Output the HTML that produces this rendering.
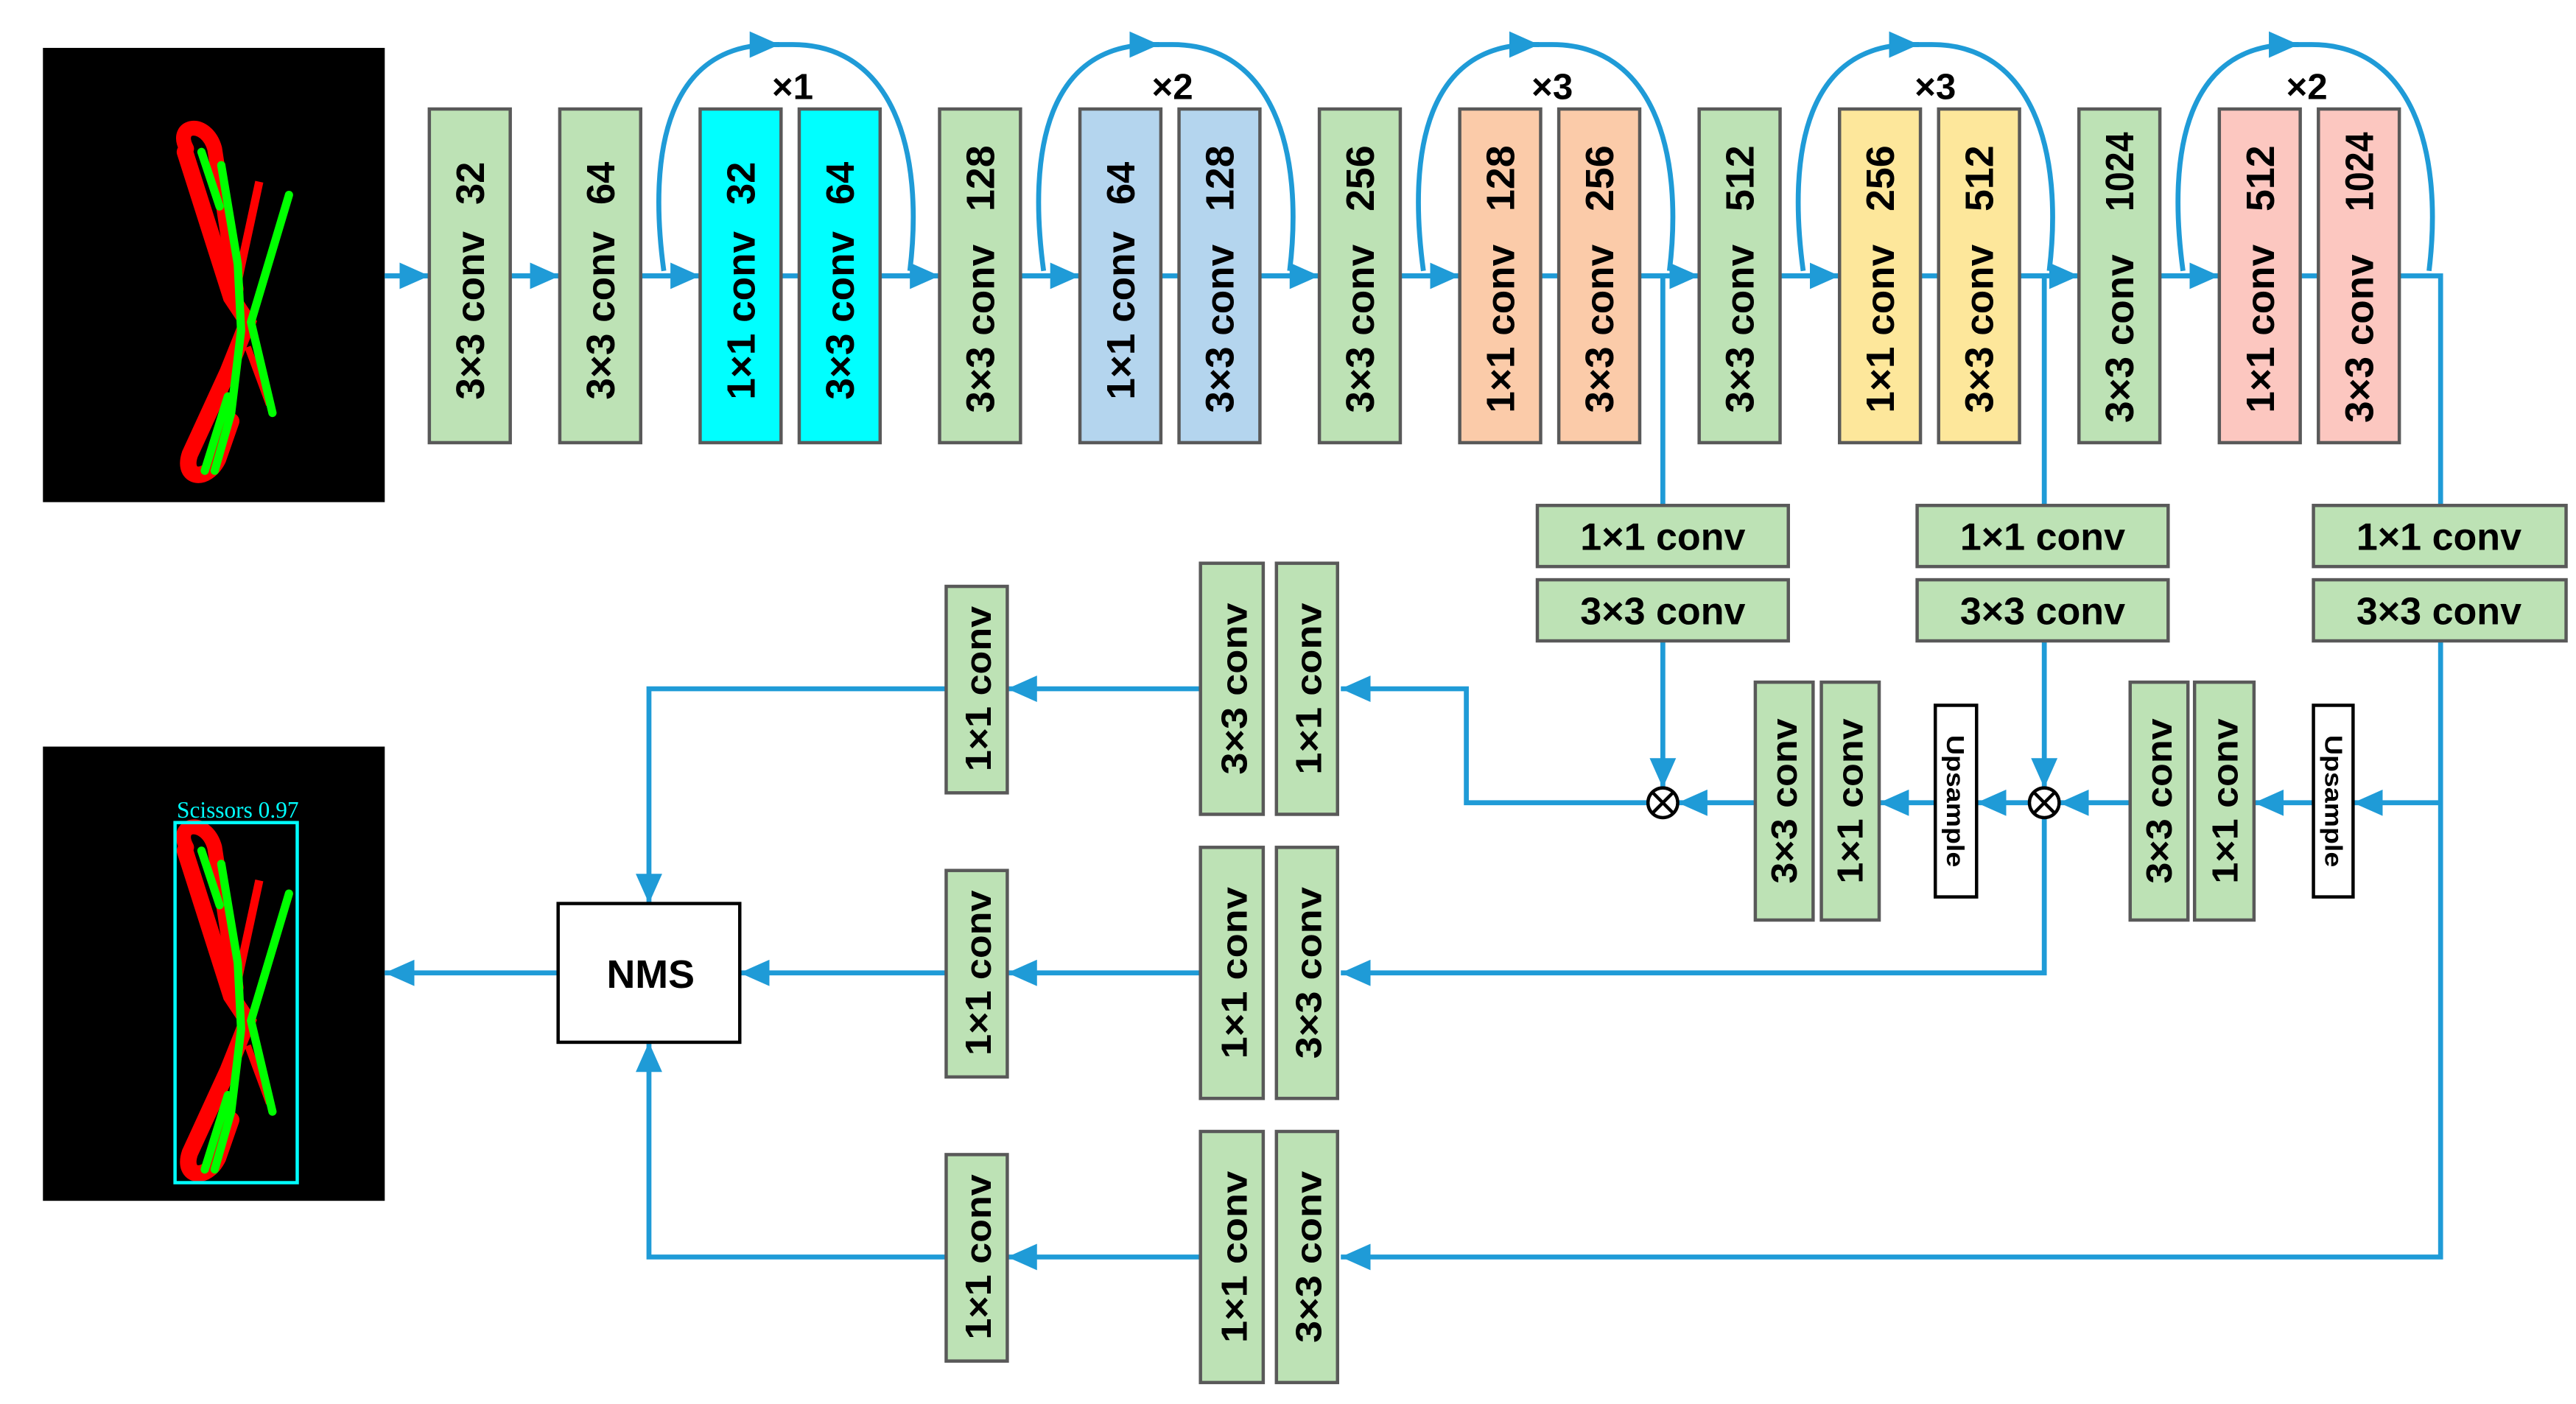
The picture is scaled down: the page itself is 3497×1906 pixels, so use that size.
<!DOCTYPE html>
<html><head><meta charset="utf-8"><style>
html,body{margin:0;padding:0;background:#fff}
svg{display:block}
text{font-family:"Liberation Sans",sans-serif;font-weight:bold;fill:#000}
</style></head><body>
<svg width="3497" height="1906" viewBox="0 0 1560 850" preserveAspectRatio="none" xmlns="http://www.w3.org/2000/svg">
<defs>
<marker id="a" viewBox="0 0 18 16" refX="18" refY="8" markerWidth="18" markerHeight="16" markerUnits="userSpaceOnUse" orient="auto"><path d="M0,0L18,8L0,16z" fill="#1f9bd7"/></marker>
<g id="sc">
<path d="M113,90 C105,75 125,72 130,90 L143,175" stroke="#f00" stroke-width="9" fill="none" stroke-linecap="round"/>
<path d="M112,92 L140,180 L150,195 L138,225 L115,275 C110,290 125,292 132,278 L140,255" stroke="#f00" stroke-width="10" fill="none" stroke-linecap="round"/>
<path d="M157,110 L143,175" stroke="#f00" stroke-width="5" fill="none"/>
<path d="M150,210 L163,245" stroke="#f00" stroke-width="4" fill="none"/>
<path d="M122,92 L133,125 M134,100 L144,160 L146,200 L140,250 L130,285 M175,118 L152,195 L165,250 M124,285 L138,240" stroke="#0f0" stroke-width="5" fill="none" stroke-linecap="round"/>
</g>
</defs>

<!-- images -->
<rect x="26" y="29" width="207" height="275" fill="#000"/>
<use href="#sc"/>
<rect x="26" y="452" width="207" height="275" fill="#000"/>
<use href="#sc" transform="translate(0,423)"/>
<rect x="106" y="498" width="74" height="218" fill="none" stroke="#0ff" stroke-width="2"/>
<text x="144" y="495" text-anchor="middle" style="font-family:'Liberation Serif',serif;font-weight:normal;fill:#0ff;font-size:14px">Scissors 0.97</text>

<g stroke="#1f9bd7" stroke-width="3" fill="none">
<!-- main line -->
<path d="M233,167 L1478,167 L1478,306"/>
<path d="M1478,388 L1478,761 L812,761" marker-end="url(#a)"/>
<path d="M233,167 L260,167" marker-end="url(#a)"/>
<path d="M309,167 L339,167" marker-end="url(#a)"/>
<path d="M388,167 L424,167" marker-end="url(#a)"/>
<path d="M533,167 L569,167" marker-end="url(#a)"/>
<path d="M618,167 L654,167" marker-end="url(#a)"/>
<path d="M763,167 L799,167" marker-end="url(#a)"/>
<path d="M848,167 L884,167" marker-end="url(#a)"/>
<path d="M993,167 L1029,167" marker-end="url(#a)"/>
<path d="M1078,167 L1114,167" marker-end="url(#a)"/>
<path d="M1223,167 L1259,167" marker-end="url(#a)"/>
<path d="M1308,167 L1344,167" marker-end="url(#a)"/>
<!-- loops -->
<path d="M402,164 C392,90 405,27 468,27 L480,27 C540,27 560,90 551,164"/>
<path d="M632,164 C622,90 635,27 698,27 L710,27 C770,27 790,90 781,164"/>
<path d="M862,164 C852,90 865,27 928,27 L940,27 C1000,27 1020,90 1011,164"/>
<path d="M1092,164 C1082,90 1095,27 1158,27 L1170,27 C1230,27 1250,90 1241,164"/>
<path d="M1322,164 C1312,90 1325,27 1388,27 L1400,27 C1460,27 1480,90 1471,164"/>
<path d="M455,27 L472,27" marker-end="url(#a)"/>
<path d="M685,27 L702,27" marker-end="url(#a)"/>
<path d="M915,27 L932,27" marker-end="url(#a)"/>
<path d="M1145,27 L1162,27" marker-end="url(#a)"/>
<path d="M1375,27 L1392,27" marker-end="url(#a)"/>
<!-- branches -->
<path d="M1007,167 L1007,306"/>
<path d="M1238,167 L1238,306"/>
<path d="M1007,388 L1007,477" marker-end="url(#a)"/>
<path d="M1238,388 L1238,477" marker-end="url(#a)"/>
<path d="M1478,486 L1425,486" marker-end="url(#a)"/>
<path d="M1401,486 L1365,486" marker-end="url(#a)"/>
<path d="M1290,486 L1247,486" marker-end="url(#a)"/>
<path d="M1229,486 L1197,486" marker-end="url(#a)"/>
<path d="M1172,486 L1138,486" marker-end="url(#a)"/>
<path d="M1063,486 L1016,486" marker-end="url(#a)"/>
<path d="M998,486 L888,486 L888,417 L812,417" marker-end="url(#a)"/>
<path d="M1238,495 L1238,589 L812,589" marker-end="url(#a)"/>
<path d="M727,417 L610,417" marker-end="url(#a)"/>
<path d="M727,589 L610,589" marker-end="url(#a)"/>
<path d="M727,761 L610,761" marker-end="url(#a)"/>
<path d="M573,417 L393,417 L393,547" marker-end="url(#a)"/>
<path d="M573,589 L448,589" marker-end="url(#a)"/>
<path d="M573,761 L393,761 L393,631" marker-end="url(#a)"/>
<path d="M338,589 L233,589" marker-end="url(#a)"/>
</g>

<!-- loop labels -->
<g style="font-size:22px" text-anchor="middle">
<text x="480" y="60">×1</text><text x="710" y="60">×2</text><text x="940" y="60">×3</text><text x="1172" y="60">×3</text><text x="1397" y="60">×2</text>
</g>

<!-- top boxes -->
<g stroke="#595959" stroke-width="2">
<rect x="260" y="66" width="49" height="202" fill="#bde2b5"/>
<rect x="339" y="66" width="49" height="202" fill="#bde2b5"/>
<rect x="424" y="66" width="49" height="202" fill="#00ffff"/>
<rect x="484" y="66" width="49" height="202" fill="#00ffff"/>
<rect x="569" y="66" width="49" height="202" fill="#bde2b5"/>
<rect x="654" y="66" width="49" height="202" fill="#b4d5ee"/>
<rect x="714" y="66" width="49" height="202" fill="#b4d5ee"/>
<rect x="799" y="66" width="49" height="202" fill="#bde2b5"/>
<rect x="884" y="66" width="49" height="202" fill="#fbcba9"/>
<rect x="944" y="66" width="49" height="202" fill="#fbcba9"/>
<rect x="1029" y="66" width="49" height="202" fill="#bde2b5"/>
<rect x="1114" y="66" width="49" height="202" fill="#fde79b"/>
<rect x="1174" y="66" width="49" height="202" fill="#fde79b"/>
<rect x="1259" y="66" width="49" height="202" fill="#bde2b5"/>
<rect x="1344" y="66" width="49" height="202" fill="#fcc7c0"/>
<rect x="1404" y="66" width="49" height="202" fill="#fcc7c0"/>
<!-- side boxes -->
<rect x="931" y="306" width="152" height="37" fill="#bde2b5"/>
<rect x="931" y="351" width="152" height="37" fill="#bde2b5"/>
<rect x="1161" y="306" width="152" height="37" fill="#bde2b5"/>
<rect x="1161" y="351" width="152" height="37" fill="#bde2b5"/>
<rect x="1401" y="306" width="153" height="37" fill="#bde2b5"/>
<rect x="1401" y="351" width="153" height="37" fill="#bde2b5"/>
<rect x="1063" y="413" width="35" height="144" fill="#bde2b5"/>
<rect x="1103" y="413" width="35" height="144" fill="#bde2b5"/>
<rect x="1290" y="413" width="35" height="144" fill="#bde2b5"/>
<rect x="1329" y="413" width="36" height="144" fill="#bde2b5"/>
<rect x="1172" y="427" width="25" height="116" fill="#fff" stroke="#000"/>
<rect x="1401" y="427" width="24" height="116" fill="#fff" stroke="#000"/>
<!-- lower boxes -->
<rect x="727" y="341" width="38" height="152" fill="#bde2b5"/>
<rect x="773" y="341" width="37" height="152" fill="#bde2b5"/>
<rect x="727" y="513" width="38" height="152" fill="#bde2b5"/>
<rect x="773" y="513" width="37" height="152" fill="#bde2b5"/>
<rect x="727" y="685" width="38" height="152" fill="#bde2b5"/>
<rect x="773" y="685" width="37" height="152" fill="#bde2b5"/>
<rect x="573" y="355" width="37" height="125" fill="#bde2b5"/>
<rect x="573" y="527" width="37" height="125" fill="#bde2b5"/>
<rect x="573" y="699" width="37" height="125" fill="#bde2b5"/>
<rect x="338" y="547" width="110" height="84" fill="#fff" stroke="#000"/>
</g>

<!-- xor circles -->
<g stroke="#000" stroke-width="2" fill="#fff">
<circle cx="1007" cy="486" r="9"/><path d="M1001,480L1013,492M1013,480L1001,492"/>
<circle cx="1238" cy="486" r="9"/><path d="M1232,480L1244,492M1244,480L1232,492"/>
</g>

<!-- top vertical labels -->
<g style="font-size:24px">
<text transform="translate(293,242) rotate(-90)" textLength="102" lengthAdjust="spacingAndGlyphs">3×3 conv</text>
<text transform="translate(293,124) rotate(-90)" textLength="26" lengthAdjust="spacingAndGlyphs">32</text>
<text transform="translate(372,242) rotate(-90)" textLength="102" lengthAdjust="spacingAndGlyphs">3×3 conv</text>
<text transform="translate(372,124) rotate(-90)" textLength="26" lengthAdjust="spacingAndGlyphs">64</text>
<text transform="translate(457,242) rotate(-90)" textLength="102" lengthAdjust="spacingAndGlyphs">1×1 conv</text>
<text transform="translate(457,124) rotate(-90)" textLength="26" lengthAdjust="spacingAndGlyphs">32</text>
<text transform="translate(517,242) rotate(-90)" textLength="102" lengthAdjust="spacingAndGlyphs">3×3 conv</text>
<text transform="translate(517,124) rotate(-90)" textLength="26" lengthAdjust="spacingAndGlyphs">64</text>
<text transform="translate(602,250) rotate(-90)" textLength="102" lengthAdjust="spacingAndGlyphs">3×3 conv</text>
<text transform="translate(602,128) rotate(-90)" textLength="40" lengthAdjust="spacingAndGlyphs">128</text>
<text transform="translate(687,242) rotate(-90)" textLength="102" lengthAdjust="spacingAndGlyphs">1×1 conv</text>
<text transform="translate(687,124) rotate(-90)" textLength="26" lengthAdjust="spacingAndGlyphs">64</text>
<text transform="translate(747,250) rotate(-90)" textLength="102" lengthAdjust="spacingAndGlyphs">3×3 conv</text>
<text transform="translate(747,128) rotate(-90)" textLength="40" lengthAdjust="spacingAndGlyphs">128</text>
<text transform="translate(832,250) rotate(-90)" textLength="102" lengthAdjust="spacingAndGlyphs">3×3 conv</text>
<text transform="translate(832,128) rotate(-90)" textLength="40" lengthAdjust="spacingAndGlyphs">256</text>
<text transform="translate(917,250) rotate(-90)" textLength="102" lengthAdjust="spacingAndGlyphs">1×1 conv</text>
<text transform="translate(917,128) rotate(-90)" textLength="40" lengthAdjust="spacingAndGlyphs">128</text>
<text transform="translate(977,250) rotate(-90)" textLength="102" lengthAdjust="spacingAndGlyphs">3×3 conv</text>
<text transform="translate(977,128) rotate(-90)" textLength="40" lengthAdjust="spacingAndGlyphs">256</text>
<text transform="translate(1062,250) rotate(-90)" textLength="102" lengthAdjust="spacingAndGlyphs">3×3 conv</text>
<text transform="translate(1062,128) rotate(-90)" textLength="40" lengthAdjust="spacingAndGlyphs">512</text>
<text transform="translate(1147,250) rotate(-90)" textLength="102" lengthAdjust="spacingAndGlyphs">1×1 conv</text>
<text transform="translate(1147,128) rotate(-90)" textLength="40" lengthAdjust="spacingAndGlyphs">256</text>
<text transform="translate(1207,250) rotate(-90)" textLength="102" lengthAdjust="spacingAndGlyphs">3×3 conv</text>
<text transform="translate(1207,128) rotate(-90)" textLength="40" lengthAdjust="spacingAndGlyphs">512</text>
<text transform="translate(1292,256) rotate(-90)" textLength="102" lengthAdjust="spacingAndGlyphs">3×3 conv</text>
<text transform="translate(1292,128) rotate(-90)" textLength="48" lengthAdjust="spacingAndGlyphs">1024</text>
<text transform="translate(1377,250) rotate(-90)" textLength="102" lengthAdjust="spacingAndGlyphs">1×1 conv</text>
<text transform="translate(1377,128) rotate(-90)" textLength="40" lengthAdjust="spacingAndGlyphs">512</text>
<text transform="translate(1437,256) rotate(-90)" textLength="102" lengthAdjust="spacingAndGlyphs">3×3 conv</text>
<text transform="translate(1437,128) rotate(-90)" textLength="48" lengthAdjust="spacingAndGlyphs">1024</text>
</g>

<!-- side horizontal labels -->
<g style="font-size:23px" text-anchor="middle">
<text x="1007" y="333" textLength="100" lengthAdjust="spacingAndGlyphs">1×1 conv</text>
<text x="1007" y="378" textLength="100" lengthAdjust="spacingAndGlyphs">3×3 conv</text>
<text x="1237" y="333" textLength="100" lengthAdjust="spacingAndGlyphs">1×1 conv</text>
<text x="1237" y="378" textLength="100" lengthAdjust="spacingAndGlyphs">3×3 conv</text>
<text x="1477" y="333" textLength="100" lengthAdjust="spacingAndGlyphs">1×1 conv</text>
<text x="1477" y="378" textLength="100" lengthAdjust="spacingAndGlyphs">3×3 conv</text>
</g>

<!-- small vertical labels -->
<g style="font-size:22px" text-anchor="middle">
<text transform="translate(1088,485) rotate(-90)" textLength="100" lengthAdjust="spacingAndGlyphs">3×3 conv</text>
<text transform="translate(1128,485) rotate(-90)" textLength="100" lengthAdjust="spacingAndGlyphs">1×1 conv</text>
<text transform="translate(1315,485) rotate(-90)" textLength="100" lengthAdjust="spacingAndGlyphs">3×3 conv</text>
<text transform="translate(1355,485) rotate(-90)" textLength="100" lengthAdjust="spacingAndGlyphs">1×1 conv</text>
<text transform="translate(755,417) rotate(-90)" textLength="104" lengthAdjust="spacingAndGlyphs">3×3 conv</text>
<text transform="translate(800,417) rotate(-90)" textLength="104" lengthAdjust="spacingAndGlyphs">1×1 conv</text>
<text transform="translate(755,589) rotate(-90)" textLength="104" lengthAdjust="spacingAndGlyphs">1×1 conv</text>
<text transform="translate(800,589) rotate(-90)" textLength="104" lengthAdjust="spacingAndGlyphs">3×3 conv</text>
<text transform="translate(755,761) rotate(-90)" textLength="104" lengthAdjust="spacingAndGlyphs">1×1 conv</text>
<text transform="translate(800,761) rotate(-90)" textLength="104" lengthAdjust="spacingAndGlyphs">3×3 conv</text>
<text transform="translate(600,417) rotate(-90)" textLength="100" lengthAdjust="spacingAndGlyphs">1×1 conv</text>
<text transform="translate(600,589) rotate(-90)" textLength="100" lengthAdjust="spacingAndGlyphs">1×1 conv</text>
<text transform="translate(600,761) rotate(-90)" textLength="100" lengthAdjust="spacingAndGlyphs">1×1 conv</text>
</g>
<g style="font-size:15px" text-anchor="middle">
<text transform="translate(1179,485) rotate(90)" textLength="80" lengthAdjust="spacingAndGlyphs">Upsample</text>
<text transform="translate(1408,485) rotate(90)" textLength="80" lengthAdjust="spacingAndGlyphs">Upsample</text>
</g>
<text x="394" y="598" text-anchor="middle" style="font-size:24px">NMS</text>
</svg>
</body></html>
